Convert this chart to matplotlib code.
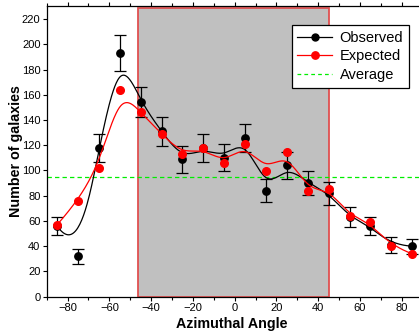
import numpy as np
import matplotlib
matplotlib.use("Agg")
import matplotlib.pyplot as plt
from matplotlib.lines import Line2D
from matplotlib.patches import Rectangle
from matplotlib.ticker import MultipleLocator

plt.rcParams['font.family'] = ['Liberation Sans', 'DejaVu Sans']

# ---- data ----
angles = [-85, -75, -65, -55, -45, -35, -25, -15, -5, 5, 15, 25, 35, 45, 55, 65, 75, 85]
observed = [56, 32, 118, 193, 154, 131, 109, 118, 110, 126, 84, 104, 90, 82, 63, 56, 41, 40]
obs_err = [7.4, 5.7, 11, 14, 12, 11.4, 10.6, 11, 10.6, 11, 9.3, 10.4, 9.5, 9, 8, 7, 6.3, 6]
expected = [57, 76, 102, 163.5, 146, 129, 113, 117.6, 105.7, 121, 99.4, 114.4, 84, 85.6, 64, 59, 40, 34]
average = 94.8
shade_range = (-46.5, 45.3)
shade_top = 228.5
xticks = [-80, -60, -40, -20, 0, 20, 40, 60, 80]
yticks = list(range(0, 221, 20))


def bspline(xs, ys, samples=600):
    """Clamped cubic B-spline using the data points as control points."""
    P = np.column_stack([xs, ys]).astype(float)
    n = len(P)
    k = 3
    inner = np.arange(1, n - k)
    t = np.concatenate([[0] * (k + 1), inner, [n - k] * (k + 1)]).astype(float)
    us = np.linspace(0, n - k, samples)
    out = []
    for u in us:
        if u >= t[n]:
            s = n - 1
        else:
            s = np.searchsorted(t, u, side='right') - 1
        d = [P[j + s - k].copy() for j in range(k + 1)]
        for r in range(1, k + 1):
            for j in range(k, r - 1, -1):
                i = j + s - k
                denom = t[i + k + 1 - r] - t[i]
                a = 0.0 if denom == 0 else (u - t[i]) / denom
                d[j] = (1 - a) * d[j - 1] + a * d[j]
        out.append(d[k])
    out = np.array(out)
    return out[:, 0], out[:, 1]


fig = plt.figure(figsize=(4.19, 3.32), dpi=100)
ax = fig.add_axes([46.7 / 419, 35.3 / 332, (422.7 - 46.7) / 419, (296.7 - 6.4) / 332])

ax.add_patch(Rectangle((shade_range[0], 0), shade_range[1] - shade_range[0], shade_top,
                       facecolor='#c0c0c0', edgecolor='#e05050', linewidth=1.3, zorder=0.5))

ax.axhline(average, color='#00ee00', linestyle=(0, (3.5, 2.5)), linewidth=0.9, zorder=1)

bx, by = bspline(angles, observed)
rx, ry = bspline(angles, expected)

ax.errorbar(angles, observed, yerr=obs_err, fmt='none', ecolor='black', elinewidth=0.9,
            capsize=4, capthick=0.9, zorder=2)
ax.plot(bx, by, color='black', linewidth=0.9, zorder=3)
ax.plot(angles, observed, 'o', color='black', markersize=5.3, zorder=3)
ax.plot(rx, ry, color='red', linewidth=0.9, zorder=4)
ax.plot(angles, expected, 'o', color='red', markersize=5.5, zorder=4)

ax.set_xlim(-90, 90)
ax.set_ylim(0, 230)
ax.set_xticks(xticks)
ax.set_yticks(yticks)
ax.xaxis.set_minor_locator(MultipleLocator(10))
ax.tick_params(axis='both', which='major', labelsize=8, direction='out', length=3, width=0.8)
ax.tick_params(axis='x', which='minor', direction='out', length=2, width=0.8)
ax.tick_params(axis='x', which='both', top=True)
ax.tick_params(axis='x', pad=1.5)
ax.tick_params(axis='y', pad=1.5)
for sp in ax.spines.values():
    sp.set_linewidth(0.9)

ax.set_xlabel('Azimuthal Angle', fontsize=10.3, fontweight='bold')
ax.set_ylabel('Number of galaxies', fontsize=10.3, fontweight='bold')
ax.xaxis.set_label_coords(0.493, -0.069)
ax.yaxis.label.set_va('center')
ax.yaxis.set_label_coords(-0.0815, 0.5)

handles = [
    Line2D([], [], color='black', marker='o', markersize=5, linewidth=0.9),
    Line2D([], [], color='red', marker='o', markersize=5.3, linewidth=0.9),
    Line2D([], [], color='#00ee00', linestyle=(0, (3, 2.5)), linewidth=0.9),
]
leg = ax.legend(handles, ['Observed', 'Expected', 'Average'], loc='upper right',
                bbox_to_anchor=(0.964, 0.936), borderaxespad=0, fontsize=10.5,
                fancybox=False, framealpha=1, edgecolor='black', handlelength=2.4,
                labelspacing=0.32, handletextpad=0.5, borderpad=0.4, numpoints=1)
leg.get_frame().set_linewidth(0.9)
leg.set_zorder(10)

fig.savefig('out.png', dpi=100)
